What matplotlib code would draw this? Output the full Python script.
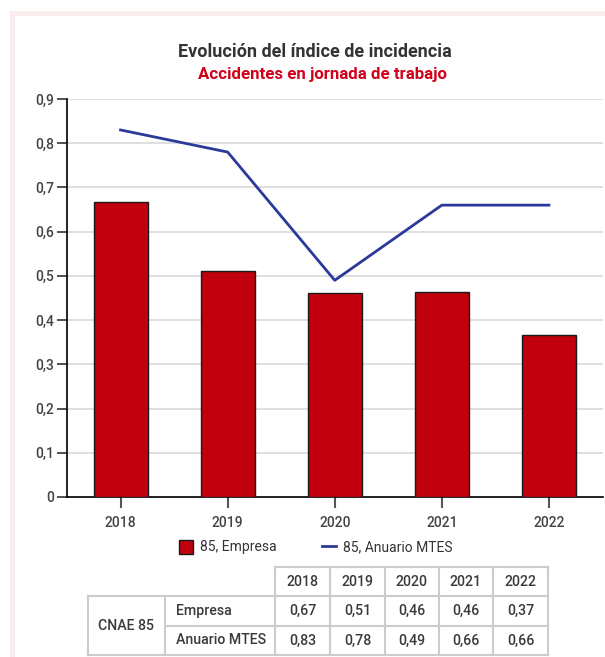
import numpy as np
import matplotlib

matplotlib.use('Agg')

import matplotlib.pyplot as plt
from matplotlib.patches import Rectangle

plt.rcParams['font.family'] = ['Roboto', 'DejaVu Sans']

# data
years = ['2018', '2019', '2020', '2021', '2022']
empresa = [0.667, 0.511, 0.461, 0.464, 0.366]
anuario = [0.83, 0.78, 0.49, 0.66, 0.66]
empresa_tab = ['0,67', '0,51', '0,46', '0,46', '0,37']
anuario_tab = ['0,83', '0,78', '0,49', '0,66', '0,66']
yticks = [0, 0.1, 0.2, 0.3, 0.4, 0.5, 0.6, 0.7, 0.8, 0.9]

W, H = 605, 657
fig = plt.figure(figsize=(W / 100, H / 100), dpi=100)
fig.patch.set_facecolor('white')

# overlay in pixel coords for frame and table
ov = fig.add_axes([0, 0, 1, 1])
ov.set_xlim(0, W)
ov.set_ylim(H, 0)
ov.axis('off')
ov.add_patch(Rectangle((10, 11), W, H, facecolor='#fbeced', edgecolor='none'))
ov.add_patch(Rectangle((15, 16), W, H, facecolor='white', edgecolor='none'))

ax = fig.add_axes([67 / W, (H - 497) / H, 535.5 / W, 398 / H])
ax.set_zorder(2)
ax.patch.set_alpha(0)
x = np.arange(len(years))
ax.bar(x, empresa, width=0.505, color='#c0000c', edgecolor='#1a1a1a',
       linewidth=1, zorder=3, label='85, Empresa')
ax.plot(x, anuario, color='#2b3a9a', linewidth=2, zorder=4,
        label='85, Anuario MTES')
ax.set_xlim(-0.5, 4.5)
ax.set_ylim(0, 0.9)
ax.set_yticks(yticks)
ax.set_yticklabels([('%g' % v).replace('.', ',') for v in yticks])
ax.set_xticks(x)
ax.set_xticklabels(years)
ax.yaxis.grid(True, color='#d9d9d9', linewidth=1.2, zorder=0)
ax.set_axisbelow(True)
for s in ['top', 'right']:
    ax.spines[s].set_visible(False)
ax.spines['left'].set_color('black')
ax.spines['bottom'].set_color('black')
ax.spines['left'].set_linewidth(1.2)
ax.spines['bottom'].set_linewidth(1.2)
ax.tick_params(axis='y', length=7, width=1.2, color='#333333',
               labelcolor='#444444', labelsize=10, pad=2)
ax.tick_params(axis='x', length=8, width=1.5, color='#555555',
               labelcolor='#444444', labelsize=10, pad=6)
for t in ax.get_xticklabels() + ax.get_yticklabels():
    t.set_fontweight('medium')

fig.text(315 / W, 1 - 52 / H, 'Evolución del índice de incidencia',
         ha='center', va='center', fontsize=13, fontweight='bold',
         color='#333333')
fig.text(322 / W, 1 - 75 / H, 'Accidentes en jornada de trabajo',
         ha='center', va='center', fontsize=12.2, fontweight='bold',
         color='#d0021b')

h, l = ax.get_legend_handles_labels()
fig.legend(h[::-1], l[::-1], loc='center', bbox_to_anchor=(316 / W, 1 - 547 / H),
           ncol=2, frameon=False, fontsize=10, handlelength=1.0,
           handleheight=1.2, columnspacing=3.3, handletextpad=0.5,
           labelcolor='#333333')

# table
gc = '#cccccc'
cols = [275, 330, 385, 439, 493, 548]
rows = [567, 596, 626, 655]
for i in range(len(cols)):
    ov.plot([cols[i], cols[i]], [rows[0], rows[3]], color=gc, lw=1.5)
ov.plot([88, 88], [rows[1], rows[3]], color=gc, lw=1.5)
ov.plot([165, 165], [rows[1], rows[3]], color=gc, lw=1.5)
ov.plot([275, 548], [rows[0], rows[0]], color=gc, lw=1.5)
ov.plot([88, 548], [rows[1], rows[1]], color=gc, lw=1.5)
ov.plot([165, 548], [rows[2], rows[2]], color=gc, lw=1.5)
ov.plot([88, 548], [rows[3], rows[3]], color=gc, lw=1.5)

tc = '#3a3a3a'
fs = 10.2
for i, yr in enumerate(years):
    cx = (cols[i] + cols[i + 1]) / 2
    ov.text(cx, (rows[0] + rows[1]) / 2, yr, ha='center', va='center',
            fontsize=fs, color=tc, fontweight='medium')
    ov.text(cx, (rows[1] + rows[2]) / 2, empresa_tab[i], ha='center',
            va='center', fontsize=fs, color=tc, fontweight='medium')
    ov.text(cx, (rows[2] + rows[3]) / 2, anuario_tab[i], ha='center',
            va='center', fontsize=fs, color=tc, fontweight='medium')
ov.text(126, (rows[1] + rows[3]) / 2, 'CNAE 85', ha='center', va='center',
        fontsize=fs, color=tc, fontweight='medium')
ov.text(176, (rows[1] + rows[2]) / 2, 'Empresa', ha='left', va='center',
        fontsize=fs, color=tc, fontweight='medium')
ov.text(176, (rows[2] + rows[3]) / 2, 'Anuario MTES', ha='left', va='center',
        fontsize=fs, color=tc, fontweight='medium')

fig.savefig('out.png', dpi=100)
